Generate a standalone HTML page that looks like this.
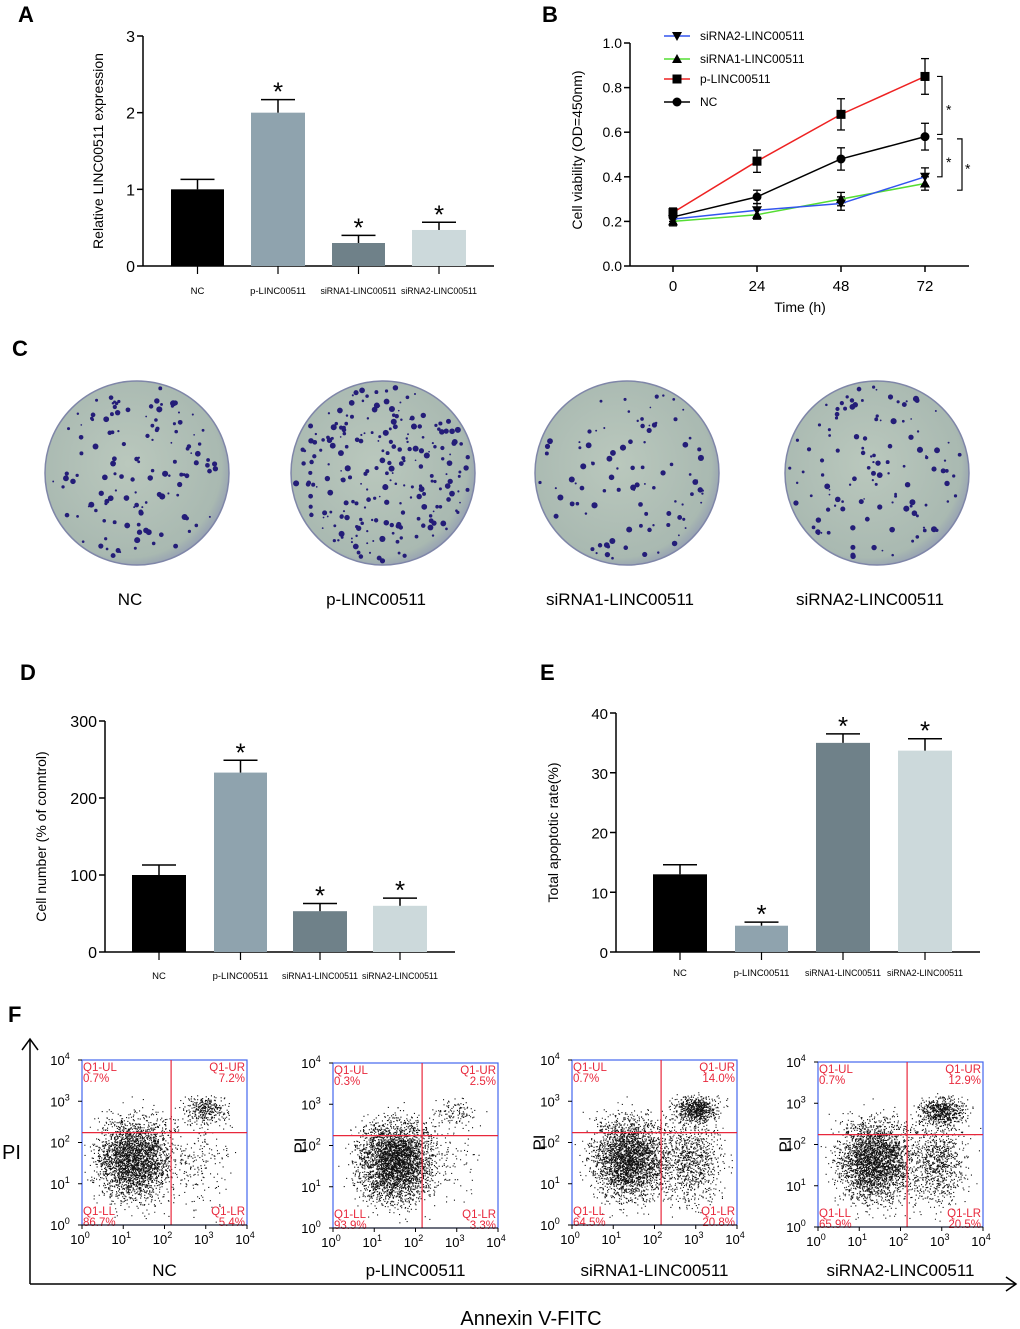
<!DOCTYPE html>
<html><head><meta charset="utf-8"><style>
body{margin:0;background:#fff;}
svg{display:block;font-family:"Liberation Sans",Arial,sans-serif;}
</style></head><body>
<svg id="fig" width="1020" height="1329" viewBox="0 0 1020 1329" xmlns="http://www.w3.org/2000/svg">
<defs>
<radialGradient id="plateGrad" cx="0.45" cy="0.45" r="0.6">
<stop offset="0" stop-color="#bac8bd"/><stop offset="0.85" stop-color="#a9b9b1"/><stop offset="1" stop-color="#8e97b2"/>
</radialGradient>
</defs>
<g font-weight="bold" font-size="22" fill="#000">
<text x="18" y="22">A</text>
<text x="542" y="22">B</text>
<text x="12" y="356">C</text>
<text x="20" y="680">D</text>
<text x="540" y="680">E</text>
<text x="8" y="1022">F</text>
</g>
<g id="gA"></g>
<g id="gB"></g>
<g id="gC"></g>
<g id="gD"></g>
<g id="gE"></g>
<g id="gF"></g>
</svg>
<script>
const groups=["NC","p-LINC00511","siRNA1-LINC00511","siRNA2-LINC00511"];
const barColors=["#000000","#8fa3ae","#6f8189","#ccd9db"];
const aValues=[1.0,2.0,0.3,0.47];
const aErr=[0.13,0.17,0.1,0.1];
const aStar=[false,true,true,true];
const aTicks=[0,1,2,3];
const dValues=[100,233,53,60];
const dErr=[13,16,10,10];
const dTicks=[0,100,200,300];
const eValues=[13,4.4,35,33.7];
const eErr=[1.6,0.6,1.5,2.0];
const eTicks=[0,10,20,30,40];
const bTimes=[0,24,48,72];
const bTicks=[0.0,0.2,0.4,0.6,0.8,1.0];
const bSeriesNames=["siRNA2-LINC00511","siRNA1-LINC00511","p-LINC00511","NC"];
const bColors=["#3355ee","#55dd33","#ee2222","#000000"];
const bMarkers=["tridown","triup","square","circle"];
const bNC=[0.22,0.31,0.48,0.58];
const bNCerr=[0.02,0.03,0.05,0.06];
const bP=[0.24,0.47,0.68,0.85];
const bPerr=[0.02,0.05,0.07,0.08];
const bSi1=[0.20,0.23,0.30,0.37];
const bSi1err=[0.02,0.02,0.03,0.03];
const bSi2=[0.21,0.25,0.28,0.40];
const bSi2err=[0.02,0.03,0.03,0.04];
const colonyCounts=[130,230,95,120];
const fUL=["0.7%","0.3%","0.7%","0.7%"];
const fUR=["7.2%","2.5%","14.0%","12.9%"];
const fLL=["86.7%","93.9%","64.5%","65.9%"];
const fLR=["5.4%","3.3%","20.8%","20.5%"];
const fURcount=[320,110,650,600];
const fLRcount=[200,80,900,850];

const NS="http://www.w3.org/2000/svg";
function el(parent,tag,attrs,text){const e=document.createElementNS(NS,tag);for(const k in attrs)e.setAttribute(k,attrs[k]);if(text!==undefined)e.textContent=text;parent.appendChild(e);return e;}

function barChart(g,cfg){
  const {ax,y0,ytop,vmax,xend,bars,vals,errs,ticks,stars,ylabel,ylx,labelY,fs,dec}=cfg;
  const ys=v=>y0-(v/vmax)*(y0-ytop);
  let l=el(g,'line',{x1:ax,y1:ytop,x2:ax,y2:y0,stroke:'#000','stroke-width':1.5});
  
  l=el(g,'line',{x1:ax,y1:y0,x2:xend,y2:y0,stroke:'#000','stroke-width':1.5});
  
  ticks.forEach(t=>{const y=ys(t);el(g,'line',{x1:ax-6,y1:y,x2:ax,y2:y,stroke:'#000','stroke-width':1.5});
    const tx=el(g,'text',{x:ax-8,y:y+6,'text-anchor':'end','font-size':fs},dec?t.toFixed(dec):String(t));
    });
  vals.forEach((v,i)=>{const [x1,x2]=bars[i];const cx=(x1+x2)/2;
    const r=el(g,'rect',{x:x1,y:ys(v),width:x2-x1,height:y0-ys(v),fill:barColors[i]});
    
    const ye=ys(v+errs[i]);
    el(g,'line',{x1:cx,y1:ys(v),x2:cx,y2:ye,stroke:'#000','stroke-width':1.5});
    el(g,'line',{x1:cx-17,y1:ye,x2:cx+17,y2:ye,stroke:'#000','stroke-width':1.5});
    el(g,'line',{x1:cx,y1:y0,x2:cx,y2:y0+8,stroke:'#000','stroke-width':1.2});
    if(stars[i]){const s=el(g,'text',{x:cx,y:ye+1,'text-anchor':'middle','font-size':26},'*');
      }
    const attrs={x:cx,y:labelY,'text-anchor':'middle','font-size':9.5};
    if(groups[i].length>12){attrs.textLength=76;attrs.lengthAdjust='spacingAndGlyphs';}
    const lb=el(g,'text',attrs,groups[i]);
    
  });
  const t=el(g,'text',{x:ylx,y:(y0+ytop)/2,'text-anchor':'middle','font-size':14,transform:`rotate(-90 ${ylx} ${(y0+ytop)/2})`},ylabel);
  
}
barChart(document.getElementById('gA'),{ax:143,y0:266,ytop:36,vmax:3,xend:494,bars:[[171,224],[251,305],[332,385],[412,466]],vals:aValues,errs:aErr,ticks:aTicks,stars:aStar,ylabel:'Relative LINC00511 expression',ylx:103,labelY:294,fs:16});
barChart(document.getElementById('gD'),{ax:105,y0:952,ytop:721,vmax:300,xend:455,bars:[[132,186],[214,267],[293,347],[373,427]],vals:dValues,errs:dErr,ticks:dTicks,stars:[false,true,true,true],ylabel:'Cell number (% of conntrol)',ylx:46,labelY:979,fs:16});
barChart(document.getElementById('gE'),{ax:616,y0:952,ytop:713,vmax:40,xend:980,bars:[[653,707],[735,788],[816,870],[898,952]],vals:eValues,errs:eErr,ticks:eTicks,stars:[false,true,true,true],ylabel:'Total apoptotic rate(%)',ylx:558,labelY:976,fs:15});

// Panel B
(function(){
  const g=document.getElementById('gB');
  const ax=630,y0=266,ytop=43,xend=969;
  const xs=t=>673+(t/72)*(925-673);
  const ys=v=>y0-v*(y0-ytop);
  el(g,'line',{x1:ax,y1:ytop,x2:ax,y2:y0,stroke:'#000','stroke-width':1.5});
  el(g,'line',{x1:ax,y1:y0,x2:xend,y2:y0,stroke:'#000','stroke-width':1.5});
  bTicks.forEach(t=>{const y=ys(t);el(g,'line',{x1:ax-6,y1:y,x2:ax,y2:y,stroke:'#000','stroke-width':1.5});
    const tx=el(g,'text',{x:ax-8,y:y+5,'text-anchor':'end','font-size':14},t.toFixed(1));
    });
  bTimes.forEach(t=>{const x=xs(t);el(g,'line',{x1:x,y1:y0,x2:x,y2:y0+6,stroke:'#000','stroke-width':1.5});
    const tx=el(g,'text',{x:x,y:291,'text-anchor':'middle','font-size':15},String(t));
    });
  let t=el(g,'text',{x:800,y:312,'text-anchor':'middle','font-size':14},'Time (h)');
  
  t=el(g,'text',{x:582,y:150,'text-anchor':'middle','font-size':14,transform:'rotate(-90 582 150)'},'Cell viability (OD=450nm)');
  
  function marker(kind,x,y,c){
    if(kind==='circle')return el(g,'circle',{cx:x,cy:y,r:4.5,fill:c});
    if(kind==='square')return el(g,'rect',{x:x-4.5,y:y-4.5,width:9,height:9,fill:c});
    if(kind==='triup')return el(g,'polygon',{points:`${x},${y-5} ${x-5},${y+4} ${x+5},${y+4}`,fill:c});
    return el(g,'polygon',{points:`${x},${y+5} ${x-5},${y-4} ${x+5},${y-4}`,fill:c});
  }
  const data=[bSi2,bSi1,bP,bNC],errs=[bSi2err,bSi1err,bPerr,bNCerr];
  const order=[3,2,1,0];
  order.forEach(i=>{
    const pts=data[i].map((v,j)=>xs(bTimes[j])+','+ys(v)).join(' ');
    const pl=el(g,'polyline',{points:pts,fill:'none',stroke:bColors[i],'stroke-width':1.5});
    
    data[i].forEach((v,j)=>{const x=xs(bTimes[j]);const e=errs[i][j];
      el(g,'line',{x1:x,y1:ys(v-e),x2:x,y2:ys(v+e),stroke:'#000','stroke-width':1.3});
      el(g,'line',{x1:x-4,y1:ys(v-e),x2:x+4,y2:ys(v-e),stroke:'#000','stroke-width':1.3});
      el(g,'line',{x1:x-4,y1:ys(v+e),x2:x+4,y2:ys(v+e),stroke:'#000','stroke-width':1.3});
      const m=marker(bMarkers[i],x,ys(v),'#000');
      
    });
  });
  const ly=[36,59,79,102];
  bSeriesNames.forEach((n,i)=>{
    el(g,'line',{x1:664,y1:ly[i],x2:690,y2:ly[i],stroke:bColors[i],'stroke-width':1.5});
    marker(bMarkers[i],677,ly[i],'#000');
    const tx=el(g,'text',{x:700,y:ly[i]+4,'font-size':12},n);
    
  });
  function bracket(x,v1,v2,sx){const a=ys(v1),b=ys(v2);
    el(g,'polyline',{points:`${x-5},${a} ${x},${a} ${x},${b} ${x-5},${b}`,fill:'none',stroke:'#000','stroke-width':1.2});
    const s=el(g,'text',{x:sx,y:(a+b)/2+9,'font-size':14},'*');}
  bracket(942,bP[3],bNC[3]+0.01,946);
  bracket(942,bNC[3]-0.01,bSi2[3],946);
  bracket(962,bNC[3]-0.01,bSi1[3]-0.03,965);
})();

let seed=12345;function rnd(){seed=(seed*1103515245+12345)%2147483648;return seed/2147483648;}
function gauss(){return (rnd()+rnd()+rnd()+rnd()-2)/0.58;}

// Panel C
(function(){
  const g=document.getElementById('gC');
  const cx=[137,383,627,877];
  cx.forEach((x,i)=>{
    const c=el(g,'circle',{cx:x,cy:473,r:92,fill:'url(#plateGrad)',stroke:'#7f86a8','stroke-width':1.5});
    
    for(let k=0;k<colonyCounts[i];k++){const a=rnd()*6.283;const r=88*Math.sqrt(rnd());
      el(g,'circle',{cx:x+r*Math.cos(a),cy:473+r*Math.sin(a),r:0.8+rnd()*2.3,fill:'#241d78'});}
    const t=el(g,'text',{x:x-7,y:605,'text-anchor':'middle','font-size':17},groups[i]);
    
  });
})();

// Panel F
(function(){
  const g=document.getElementById('gF');
  el(g,'line',{x1:30,y1:1284,x2:30,y2:1040,stroke:'#000','stroke-width':1.5});
  el(g,'polyline',{points:'22,1050 30,1039 38,1050',fill:'none',stroke:'#000','stroke-width':1.5});
  el(g,'line',{x1:30,y1:1284,x2:1015,y2:1284,stroke:'#000','stroke-width':1.5});
  el(g,'polyline',{points:'1006,1277 1016,1284 1006,1291',fill:'none',stroke:'#000','stroke-width':1.5});
  let t=el(g,'text',{x:2,y:1159,'font-size':20},'PI');
  t=el(g,'text',{x:531,y:1325,'text-anchor':'middle','font-size':20},'Annexin V-FITC');
  const boxes=[[82,1060],[333,1063],[572,1060],[818,1062]];
  boxes.forEach(([bx,by],i)=>{
    const w=165,h=165;const qx=bx+w*0.54,qy=by+h*0.44;
    const sub=el(g,'g',{});
    el(sub,'rect',{x:bx,y:by,width:w,height:h,fill:'#fff',stroke:'#4466ee','stroke-width':1.2});
    const lx=bx+w*(i===0?0.32:i===1?0.38:0.35),lyc=by+h*0.6;
    let pts='';
    const nLL=i===1?3400:2800;
    for(let k=0;k<nLL;k++){const x=lx+gauss()*w*0.11,y=lyc+gauss()*h*0.12;if(x>bx&&x<bx+w&&y>by&&y<by+h)pts+=`M${x.toFixed(1)} ${y.toFixed(1)}h1.1v1.1h-1.1z`;}
    for(let k=0;k<fURcount[i];k++){const x=bx+w*0.75+gauss()*w*0.065,y=by+h*0.3+gauss()*h*0.04;if(x>bx&&x<bx+w)pts+=`M${x.toFixed(1)} ${y.toFixed(1)}h1.1v1.1h-1.1z`;}
    for(let k=0;k<fLRcount[i];k++){const x=bx+w*0.72+gauss()*w*0.09,y=by+h*0.62+gauss()*h*0.13;if(x>bx&&x<bx+w&&y<by+h)pts+=`M${x.toFixed(1)} ${y.toFixed(1)}h1.1v1.1h-1.1z`;}
    el(sub,'path',{d:pts,fill:'#111'});
    el(sub,'line',{x1:qx,y1:by,x2:qx,y2:by+h,stroke:'#e8283c','stroke-width':1.2});
    el(sub,'line',{x1:bx,y1:qy,x2:bx+w,y2:qy,stroke:'#e8283c','stroke-width':1.2});
    const rc='#e8283c',fs=11.5;
    el(sub,'text',{x:bx+1,y:by+11,fill:rc,'font-size':fs},'Q1-UL');
    el(sub,'text',{x:bx+1,y:by+22,fill:rc,'font-size':fs},fUL[i]);
    el(sub,'text',{x:bx+w-2,y:by+11,fill:rc,'font-size':fs,'text-anchor':'end'},'Q1-UR');
    el(sub,'text',{x:bx+w-2,y:by+22,fill:rc,'font-size':fs,'text-anchor':'end'},fUR[i]);
    el(sub,'text',{x:bx+1,y:by+h-10,fill:rc,'font-size':fs},'Q1-LL');
    el(sub,'text',{x:bx+1,y:by+h+1,fill:rc,'font-size':fs},fLL[i]);
    el(sub,'text',{x:bx+w-2,y:by+h-10,fill:rc,'font-size':fs,'text-anchor':'end'},'Q1-LR');
    el(sub,'text',{x:bx+w-2,y:by+h+1,fill:rc,'font-size':fs,'text-anchor':'end'},fLR[i]);
    for(let d=0;d<=4;d++){
      const x=bx+w*d/4,y=by+h-h*d/4;
      el(sub,'line',{x1:x,y1:by+h,x2:x,y2:by+h+4,stroke:'#000'});
      el(sub,'line',{x1:bx-4,y1:y,x2:bx,y2:y,stroke:'#000'});
      const a=el(sub,'text',{x:x-2,y:by+h+19,'text-anchor':'middle','font-size':13},'10');
      el(a,'tspan',{dy:-6,'font-size':9},String(d));
      const b=el(sub,'text',{x:bx-22,y:y+5,'text-anchor':'middle','font-size':13},'10');
      el(b,'tspan',{dy:-6,'font-size':9},String(d));
    }
    el(sub,'line',{x1:bx,y1:by+h,x2:bx+w,y2:by+h,stroke:'#000','stroke-width':1});
    if(i>0){el(sub,'text',{x:bx-35,y:by+h/2+8,'font-size':17,transform:`rotate(-90 ${bx-35} ${by+h/2})`,'text-anchor':'middle'},'PI');}
    const lb=el(sub,'text',{x:bx+w/2,y:1276,'text-anchor':'middle','font-size':17},groups[i]);
    
  });
})();
</script>
</body></html>
